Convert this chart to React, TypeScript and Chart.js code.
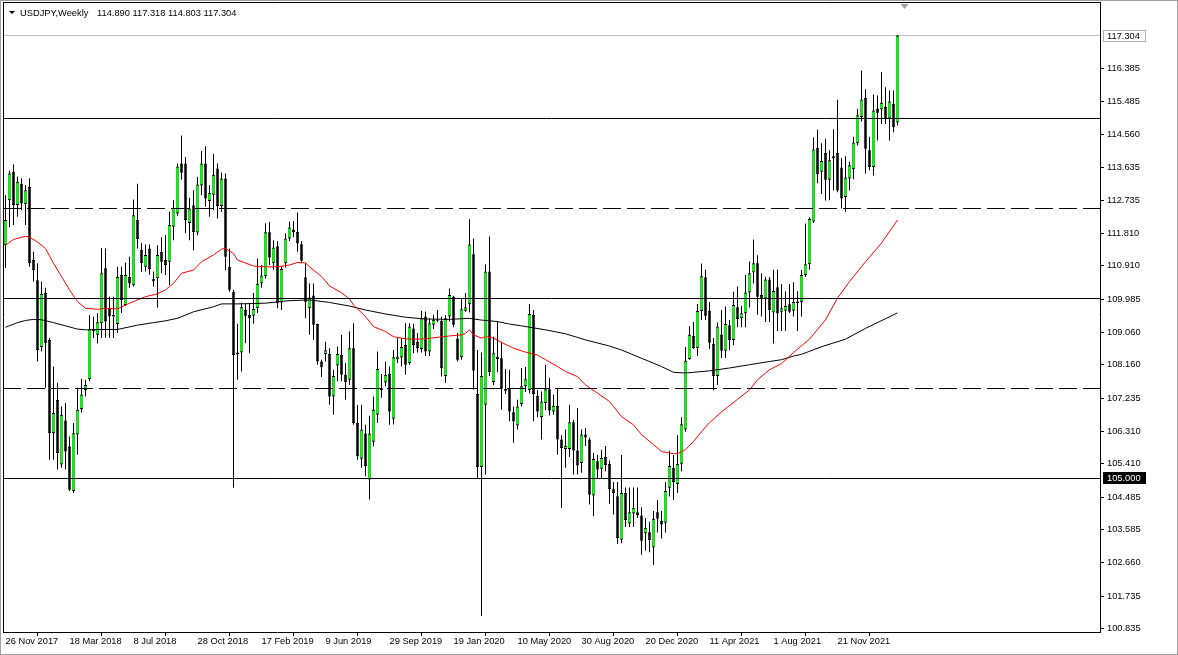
import React, { useEffect, useRef } from "react";
import { Chart, registerables } from "chart.js";

Chart.register(...registerables);

const symbolTitle = "USDJPY,Weekly";
const ohlcTitle = "114.890 117.318 114.803 117.304";

const opens = [
  111.48,112.73,113.52,112.60,113.19,112.62,113.10,111.07,110.51,108.65,
  110.15,108.85,106.26,107.19,105.39,106.61,105.89,104.65,106.22,106.93,
  107.46,107.76,109.10,108.99,109.31,110.84,109.73,109.50,109.29,110.65,
  109.82,110.60,110.37,112.18,111.35,110.88,111.39,110.48,110.56,111.29,
  111.07,111.02,111.99,112.36,113.75,113.75,112.10,112.59,111.83,113.14,
  113.75,112.71,112.88,113.61,112.57,113.33,110.88,110.19,108.50,108.50,
  109.68,109.54,109.52,109.73,110.42,110.62,111.84,110.98,111.45,109.89,
  110.98,111.67,111.92,111.85,111.51,110.59,109.73,110.08,109.29,108.25,
  108.46,108.46,107.28,108.14,108.43,107.88,107.74,108.62,106.54,105.55,
  106.25,104.97,106.02,106.77,107.45,107.67,107.90,106.66,108.31,108.36,
  108.71,108.20,109.17,108.80,108.60,109.50,108.53,109.27,109.38,109.38,
  107.85,109.50,110.05,108.88,108.37,109.66,109.84,111.23,107.35,105.32,
  107.05,110.75,107.68,108.32,108.34,107.49,107.51,106.84,106.47,107.07,
  107.56,107.46,109.54,107.30,106.71,107.10,107.48,106.86,107.02,106.08,
  105.82,105.82,106.56,105.78,105.43,106.22,106.08,104.53,105.48,105.27,
  105.60,105.40,104.70,104.51,103.30,104.60,103.75,104.03,104.06,103.97,
  103.47,103.51,103.08,104.06,103.82,103.77,104.74,105.30,104.85,105.41,
  106.36,108.32,108.96,108.62,109.65,110.59,109.66,108.74,107.85,109.00,
  108.55,109.26,108.85,109.76,109.45,109.59,110.17,110.72,110.98,110.10,
  110.00,110.53,109.61,110.31,109.63,109.66,109.84,109.66,109.87,109.90,
  110.65,110.95,112.14,114.19,113.52,114.04,113.30,113.89,114.04,113.64,
  112.82,113.33,113.59,114.31,115.04,115.57,114.12,113.65,115.27,115.25,
  115.32,115.00,115.41,114.89
];
const highs = [
  112.87,113.55,113.73,113.38,113.34,113.15,113.34,111.30,110.98,110.47,
  110.30,108.90,108.11,107.66,107.00,107.10,106.17,106.54,107.52,107.77,
  107.74,109.54,109.50,109.60,111.40,111.39,110.05,110.05,110.88,110.88,
  111.00,111.16,112.75,113.19,111.54,111.50,111.50,110.75,111.48,111.70,
  111.76,112.41,112.73,113.75,114.53,113.93,112.80,113.01,113.38,114.10,
  114.23,113.15,114.02,113.75,113.50,113.47,111.39,110.24,109.30,109.88,
  109.85,109.87,110.15,111.11,110.93,112.09,112.13,111.62,111.60,110.90,
  111.81,112.13,112.15,112.39,111.60,110.98,110.42,110.42,109.30,108.30,
  108.80,108.62,108.02,108.67,108.99,108.21,109.08,109.31,107.05,107.05,
  106.49,106.74,107.28,108.53,107.90,108.25,108.11,108.57,108.90,108.90,
  109.31,109.31,109.30,109.04,109.66,109.64,109.45,109.55,109.68,109.49,
  109.54,110.28,110.07,109.04,110.01,110.15,112.20,111.67,108.57,108.50,
  110.95,111.72,108.94,109.36,108.80,108.04,108.02,107.00,107.19,108.07,
  108.10,109.85,109.68,107.46,107.42,108.16,107.80,107.33,107.51,106.20,
  106.36,107.05,106.63,106.96,106.36,106.40,106.13,105.71,105.66,105.80,
  105.90,105.50,104.90,104.90,105.65,104.75,104.75,104.75,104.75,104.20,
  103.90,103.80,104.10,104.40,104.10,104.90,105.77,105.65,106.20,106.70,
  108.65,109.23,109.35,109.85,110.97,110.80,109.90,108.90,109.33,109.68,
  109.78,109.40,110.19,110.33,109.80,110.65,111.03,111.64,111.20,110.70,
  110.60,110.60,110.80,110.80,110.40,110.20,110.40,110.45,110.20,110.79,
  112.08,112.25,114.47,114.69,114.31,114.44,114.12,114.70,115.52,113.90,
  113.95,113.80,114.49,115.27,116.33,115.81,114.49,115.67,115.64,116.29,
  115.87,115.78,115.78,117.318
];
const lows = [
  110.85,111.98,112.04,112.27,112.45,112.04,110.88,110.47,108.25,108.53,
  107.52,105.52,105.52,105.25,105.30,105.25,104.65,104.60,105.66,106.83,
  107.28,107.70,108.90,108.75,108.90,108.91,108.91,108.90,109.04,109.60,
  109.80,110.30,110.33,111.39,110.74,110.75,110.66,110.33,109.74,110.70,
  110.65,110.37,111.62,112.30,113.30,111.81,111.62,111.34,111.76,112.87,
  112.55,112.27,112.45,112.22,112.40,110.79,110.19,104.74,107.74,107.97,
  108.76,108.48,109.30,109.60,110.30,110.55,110.93,110.80,109.73,109.68,
  110.86,111.60,111.70,111.30,110.98,109.45,108.99,108.85,108.16,107.82,
  108.25,107.05,106.77,107.70,107.70,107.19,107.60,106.49,105.52,105.30,
  105.06,104.42,105.89,106.54,107.24,107.56,106.49,106.50,108.21,108.11,
  107.88,108.16,108.48,108.50,108.50,108.40,108.40,109.15,109.35,107.83,
  107.65,109.36,109.20,108.25,108.30,109.63,109.61,107.47,105.00,101.18,
  105.11,107.85,107.60,107.95,106.91,107.35,106.59,105.99,106.36,107.00,
  107.40,107.37,106.59,106.70,106.08,106.90,106.75,106.77,105.66,104.18,
  105.30,105.60,105.11,105.11,105.16,105.90,104.28,103.95,105.00,105.00,
  105.20,104.30,104.00,103.18,103.20,103.65,103.65,103.65,103.90,102.88,
  103.00,102.95,102.60,103.50,103.33,103.50,104.50,104.40,104.60,105.20,
  106.30,108.30,108.60,108.40,109.40,109.40,108.60,107.45,107.60,108.35,
  108.35,108.56,108.70,109.20,109.20,109.20,109.75,110.42,109.55,109.50,
  109.35,109.35,108.75,109.10,109.10,109.10,109.60,109.50,109.10,109.50,
  110.60,110.80,112.10,113.20,112.90,112.72,112.73,113.00,112.95,112.50,
  112.40,113.00,113.31,114.25,114.92,113.47,113.56,113.42,114.39,114.85,
  114.85,114.39,114.62,114.803
];
const closes = [
  112.18,113.47,112.60,113.24,112.64,113.01,110.98,110.79,108.57,110.13,
  108.76,106.26,106.82,105.71,106.77,105.75,104.69,106.26,106.91,107.33,
  107.60,109.15,109.15,109.34,110.70,109.36,109.50,109.55,110.60,109.96,
  110.65,110.42,112.31,111.65,110.98,111.21,110.81,110.55,111.21,111.02,
  110.93,112.04,112.52,113.67,113.49,112.18,112.50,111.85,113.17,113.75,
  112.78,112.93,113.44,112.57,113.33,111.16,110.24,108.43,108.45,109.76,
  109.52,109.45,109.71,110.41,110.64,111.84,111.14,111.42,109.87,110.82,
  111.67,111.97,111.85,111.53,111.05,109.91,110.03,109.27,108.25,108.09,
  108.56,107.28,107.85,108.46,107.88,107.68,108.62,106.54,105.62,106.36,
  105.34,106.25,106.91,108.04,107.51,107.88,106.86,108.37,108.39,108.65,
  108.16,109.22,108.71,108.62,109.45,108.53,109.31,109.41,109.42,108.06,
  109.45,110.10,109.27,108.30,109.70,109.76,111.50,107.99,105.32,107.85,
  110.75,107.96,108.48,108.38,107.49,107.44,106.86,106.59,107.00,107.56,
  107.76,109.57,107.35,106.86,107.14,107.48,106.89,107.02,106.08,105.85,
  105.91,106.56,105.78,105.36,106.22,106.14,104.55,105.54,105.25,105.57,
  105.37,104.70,104.60,103.35,104.60,103.85,104.06,104.19,103.98,103.27,
  103.63,103.29,103.88,103.88,103.72,104.65,105.35,104.90,105.40,106.51,
  108.27,108.99,108.62,109.65,110.62,109.52,108.77,107.85,109.22,108.55,
  109.29,108.85,109.82,109.43,109.59,110.17,110.70,110.98,110.05,110.00,
  110.53,109.68,110.21,109.59,109.73,109.79,109.63,109.90,109.92,110.65,
  110.95,112.21,114.14,113.45,113.82,113.30,113.84,113.95,113.00,112.78,
  113.36,113.70,114.33,115.09,115.53,114.16,113.65,115.22,115.16,115.44,
  115.00,115.47,114.76,117.304
];

const xTickIndex = [0, 16, 32, 48, 64, 80, 96, 112, 128, 144, 160, 176, 192, 208];
const xTickLabels = [
  "26 Nov 2017", "18 Mar 2018", "8 Jul 2018", "28 Oct 2018", "17 Feb 2019",
  "9 Jun 2019", "29 Sep 2019", "19 Jan 2020", "10 May 2020", "30 Aug 2020",
  "20 Dec 2020", "11 Apr 2021", "1 Aug 2021", "21 Nov 2021"
];
const yTickValues = [
  116.385, 115.485, 114.560, 113.635, 112.735, 111.810, 110.910, 109.985, 109.060,
  108.160, 107.235, 106.310, 105.410, 104.485, 103.585, 102.660, 101.735, 100.835
];

const redMaIdx = [
  0,2,5,6,8,10,12,14,16,18,20,23,25,28,30,33,35,38,40,42,44,47,49,52,54,55,57,58,62,65,
  68,71,73,75,76,79,81,84,86,87,90,92,95,97,100,102,105,107,111,114,115,116,117,119,120,
  122,124,127,130,133,135,138,140,143,145,148,151,152,154,157,159,162,164,167,168,170,172,
  174,176,179,183,186,188,191,194,197,201,205,208,211,215,219,223
];
const redMaVal = [
  111.48,111.64,111.73,111.70,111.57,111.39,110.98,110.61,110.24,109.91,
  109.73,109.70,109.73,109.71,109.82,109.96,110.05,110.13,110.24,110.42,
  110.70,110.79,111.02,111.21,111.37,111.39,111.25,111.07,110.90,110.88,
  110.88,110.93,111.00,110.99,110.88,110.61,110.35,110.16,109.99,109.82,
  109.50,109.22,109.08,108.94,108.88,108.87,108.88,108.91,108.96,108.99,
  109.03,109.13,108.99,108.90,108.94,108.90,108.78,108.62,108.51,108.43,
  108.30,108.11,107.97,107.83,107.60,107.37,107.14,107.00,106.72,106.49,
  106.22,105.94,105.75,105.69,105.69,105.80,106.03,106.30,106.55,106.85,
  107.20,107.46,107.74,108.02,108.19,108.50,108.87,109.41,110.01,110.47,
  111.02,111.54,112.18
];
const blackMaIdx = [
  0,3,5,7,9,12,15,18,20,25,28,33,37,40,43,47,52,54,58,65,71,76,81,86,90,95,100,105,
  111,116,119,123,126,129,135,140,145,151,154,159,164,167,170,172,176,181,186,191,194,
  197,199,204,210,215,223
];
const blackMaVal = [
  109.20,109.33,109.39,109.42,109.41,109.33,109.24,109.15,109.13,109.14,
  109.14,109.26,109.33,109.38,109.45,109.63,109.77,109.85,109.85,109.87,
  109.94,109.96,109.89,109.79,109.68,109.57,109.48,109.43,109.42,109.45,
  109.40,109.36,109.29,109.24,109.13,109.02,108.85,108.68,108.57,108.34,
  108.11,107.95,107.93,107.95,107.99,108.07,108.16,108.25,108.30,108.40,
  108.45,108.66,108.87,109.17,109.60
];

const solidLevels = [115, 110, 105];
const dashedLevels = [112.5, 107.5];
const lastPrice = 117.304;
const labeledLevel = 105.0;

const X_MIN = -0.625;
const X_MAX = 273.625;
const Y_MAX = 118.236111;
const Y_MIN = 100.736111;

const FONT = '"Liberation Sans", Arial, sans-serif';
const FONT_SIZE = 9.3;
const BULL = "#00ff00";
const BEAR = "#000000";

const decor = {
  id: "decor",
  beforeDraw(chart: any) {
    const { ctx, width, height } = chart;
    ctx.save();
    ctx.fillStyle = "#ffffff";
    ctx.fillRect(0, 0, width, height);
    ctx.restore();
  },
  afterDraw(chart: any) {
    const { ctx, chartArea: a, scales, width, height } = chart;
    const ys = scales.y;
    const xs = scales.x;
    ctx.save();
    ctx.strokeStyle = "#000";
    ctx.lineWidth = 1;
    ctx.beginPath();
    ctx.moveTo(a.left + 0.5, a.top);
    ctx.lineTo(a.left + 0.5, a.bottom + 1);
    ctx.moveTo(a.left, a.top + 0.5);
    ctx.lineTo(a.right + 1, a.top + 0.5);
    ctx.moveTo(a.right + 0.5, a.top);
    ctx.lineTo(a.right + 0.5, a.bottom + 1);
    ctx.moveTo(a.left, a.bottom + 0.5);
    ctx.lineTo(a.right + 1, a.bottom + 0.5);
    ctx.stroke();
    ctx.strokeStyle = "#a0a0a0";
    ctx.strokeRect(0.5, 0.5, width - 1, height - 1);

    ctx.fillStyle = "#000";
    ctx.beginPath();
    ctx.moveTo(9, 11);
    ctx.lineTo(15, 11);
    ctx.lineTo(12, 14);
    ctx.closePath();
    ctx.fill();
    ctx.font = `${FONT_SIZE}px ${FONT}`;
    ctx.textBaseline = "alphabetic";
    ctx.textAlign = "left";
    ctx.fillText(symbolTitle, 20, 16);
    ctx.fillText(ohlcTitle, 97, 16);

    const sx = Math.round(xs.getPixelForValue(224.5)) + 0.5;
    ctx.fillStyle = "#a0a0a0";
    ctx.beginPath();
    ctx.moveTo(sx - 4, 4);
    ctx.lineTo(sx + 4, 4);
    ctx.lineTo(sx, 9);
    ctx.closePath();
    ctx.fill();

    const drawLabel = (v: number, bg: string, fg: string, border: string) => {
      const y = Math.round(ys.getPixelForValue(v));
      ctx.fillStyle = bg;
      ctx.fillRect(a.right + 3, y - 6, 43, 12);
      ctx.strokeStyle = border;
      ctx.strokeRect(a.right + 3.5, y - 5.5, 42, 11);
      ctx.fillStyle = fg;
      ctx.font = `${FONT_SIZE}px ${FONT}`;
      ctx.textBaseline = "middle";
      ctx.fillText(v.toFixed(3), a.right + 7, y + 0.5);
    };
    drawLabel(lastPrice, "#ffffff", "#000000", "#b0b0b0");
    drawLabel(labeledLevel, "#000000", "#ffffff", "#000000");
    ctx.restore();
  },
};

export default function App() {
  const ref = useRef<HTMLCanvasElement>(null);
  useEffect(() => {
    document.body.style.margin = "0";
    const canvas = ref.current;
    if (!canvas) return;
    const idx = opens.map((_, i) => i);
    const bodies = idx.map((i) => ({ x: i, y: [opens[i], closes[i]] }));
    const wicks = idx.map((i) => ({ x: i, y: [lows[i], highs[i]] }));
    const bodyColors = idx.map((i) => (closes[i] >= opens[i] ? BULL : BEAR));
    const levelLine = (v: number) => [
      { x: X_MIN, y: v },
      { x: X_MAX, y: v },
    ];
    const datasets: any[] = [];
    solidLevels.forEach((v) =>
      datasets.push({ type: "line", data: levelLine(v), borderColor: "#000", borderWidth: 1, pointRadius: 0, order: 0 })
    );
    dashedLevels.forEach((v) =>
      datasets.push({ type: "line", data: levelLine(v), borderColor: "#000", borderWidth: 1, borderDash: [18, 6], pointRadius: 0, order: 0 })
    );
    datasets.push({ type: "line", data: levelLine(lastPrice), borderColor: "#c0c0c0", borderWidth: 1, pointRadius: 0, order: 5 });
    datasets.push({
      type: "line",
      data: redMaIdx.map((k, i) => ({ x: k, y: redMaVal[i] })),
      borderColor: "#ff0000", borderWidth: 1, pointRadius: 0, tension: 0, order: 1,
    });
    datasets.push({
      type: "line",
      data: blackMaIdx.map((k, i) => ({ x: k, y: blackMaVal[i] })),
      borderColor: "#000000", borderWidth: 1, pointRadius: 0, tension: 0, order: 1,
    });
    datasets.push({
      type: "bar", data: wicks, backgroundColor: "#000", borderWidth: 0, barThickness: 1,
      grouped: false, inflateAmount: 0, order: 4,
    });
    datasets.push({
      type: "bar", data: bodies, backgroundColor: bodyColors, borderColor: "#000",
      borderWidth: { top: 1, bottom: 1, left: 0.5, right: 0.5 },
      borderSkipped: false, barThickness: 3, minBarLength: 1, grouped: false, inflateAmount: 0, order: 3,
    });

    const chart = new Chart(canvas, {
      type: "bar",
      data: { datasets },
      options: {
        animation: false,
        responsive: false,
        devicePixelRatio: 1,
        layout: { padding: { left: 3, top: 2, right: 0, bottom: 0 } },
        plugins: { legend: { display: false }, tooltip: { enabled: false } },
        scales: {
          x: {
            type: "linear", min: X_MIN, max: X_MAX, offset: false,
            afterBuildTicks: (s: any) => { s.ticks = xTickIndex.map((v) => ({ value: v })); },
            afterFit: (s: any) => { s.height = 23; s.paddingLeft = 0; s.paddingRight = 0; },
            ticks: {
              autoSkip: false, maxRotation: 0, minRotation: 0, align: "start", padding: 0, color: "#000",
              font: { family: FONT, size: FONT_SIZE },
              callback: (_v: any, i: number) => xTickLabels[i],
            },
            grid: { drawOnChartArea: false, drawTicks: true, tickLength: 4, color: "#000" },
            border: { display: false },
          },
          y: {
            type: "linear", position: "right", min: Y_MIN, max: Y_MAX,
            afterBuildTicks: (s: any) => { s.ticks = yTickValues.map((v) => ({ value: v })); },
            afterFit: (s: any) => { s.width = 78; s.paddingTop = 0; s.paddingBottom = 0; },
            ticks: {
              autoSkip: false, padding: 3, color: "#000", font: { family: FONT, size: FONT_SIZE },
              callback: (v: any) => Number(v).toFixed(3),
            },
            grid: { drawOnChartArea: false, drawTicks: true, tickLength: 4, color: "#000" },
            border: { display: false },
          },
        },
      } as any,
      plugins: [decor],
    });
    return () => chart.destroy();
  }, []);
  return (
    <div style={{ position: "fixed", left: 0, top: 0, width: 1178, height: 655, background: "#fff" }}>
      <canvas ref={ref} width={1178} height={655} style={{ display: "block", width: 1178, height: 655 }} />
    </div>
  );
}
